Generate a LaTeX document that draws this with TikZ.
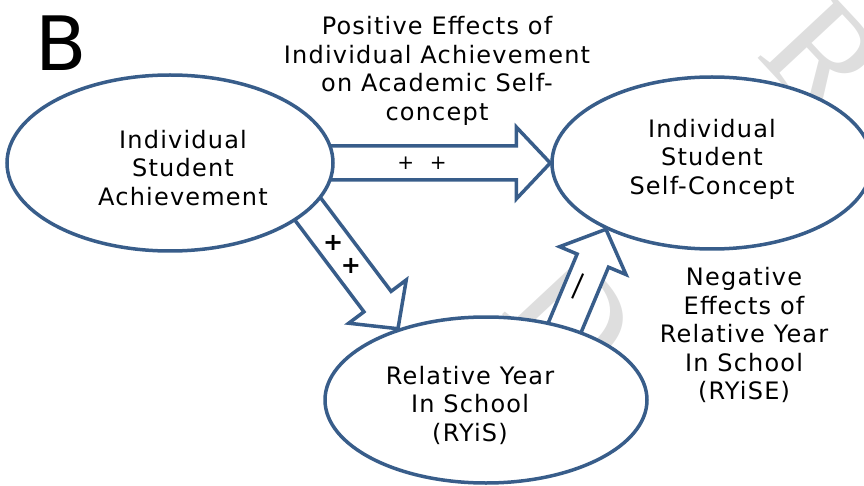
\documentclass[tikz,border=0pt]{standalone}
\usepackage{fontspec}
\setmainfont{DejaVu Sans}[LetterSpace=5]
\newfontfamily\wmfont{Liberation Serif}
\usepackage{tikz}
\usetikzlibrary{shapes,positioning,calc}
\definecolor{frameblue}{RGB}{56,93,138}
\definecolor{wmgray}{RGB}{222,222,222}
\tikzstyle{oval} = [draw=frameblue, ellipse, fill=white, line width=3.5pt]
\tikzstyle{txt} = [align=center, font=\fontsize{24}{28.5}\selectfont]
\tikzstyle{fatarr} = [draw=frameblue, fill=white, line width=3.5pt]
\tikzstyle{sign} = [inner sep=0pt, font=\fontsize{20}{20}\selectfont]
\tikzstyle{wm} = [text=wmgray, rotate=-47, font=\wmfont\fontsize{150}{150}\selectfont]
\pgfdeclarelayer{back}
\pgfdeclarelayer{arr}
\pgfsetlayers{back,arr,main}

% hollow block arrow, #1 = start, #2 = tip
\newcommand{\fatarrow}[2]{%
  \coordinate (fa-s) at ($(#1)!-25pt!(#2)$);
  \coordinate (fa-h) at ($(#2)!34pt!(#1)$);
  \filldraw[fatarr] ($(fa-s)!17pt!90:(#2)$) -- ($(fa-h)!17pt!90:(#2)$)
    -- ($(fa-h)!36pt!90:(#2)$) -- (#2) -- ($(fa-h)!36pt!-90:(#2)$)
    -- ($(fa-h)!17pt!-90:(#2)$) -- ($(fa-s)!17pt!-90:(#2)$) -- cycle;
}

\begin{document}
\begin{tikzpicture}[x=1pt, y=-1pt, node distance=542pt]
  \useasboundingbox (0,0) rectangle (864,486);
  \node [oval, minimum width=326pt, minimum height=176pt] (ach) at (170,163) {};
  \node [oval, minimum width=320pt, minimum height=172pt, right of=ach] (sc) {};
  \node [oval, minimum width=322pt, minimum height=166pt] (ry) at (486,400) {};

  \node [txt] (achtxt) at ([xshift=13pt, yshift=-5pt]ach.center) {Individual\\Student\\Achievement};
  \node [txt] (sctxt) at ([yshift=4pt]sc.center) {Individual\\Student\\Self-Concept};
  \node [txt] (rytxt) at ([xshift=-16pt, yshift=-5pt]ry.center) {Relative Year\\In School\\(RYiS)};

  \node [txt, font=\fontsize{75}{80}\selectfont] (lbl) at (61,43) {B};
  \node [txt] (pos) at (437,71) {Positive Effects of\\Individual Achievement\\on Academic Self-\\concept};
  \node [txt] (neg) at (744,335) {Negative\\Effects of\\Relative Year\\In School\\(RYiSE)};

  \begin{pgfonlayer}{back}
    \node [wm] (wmd) at (572,318) {D};
    \node [wm] (wmr) at (825,58) {R};
  \end{pgfonlayer}

  \begin{pgfonlayer}{arr}
    \fatarrow{ach.east}{sc.west}
    \fatarrow{ach.-19}{ry.141}
    \fatarrow{ry.43}{sc.212}
  \end{pgfonlayer}

  \node [sign] (p1) at ($(ach.east)!0.33!(sc.west)$) {+};
  \node [sign] (p2) at ($(ach.east)!0.48!(sc.west)$) {+};
  \node [sign, font=\fontsize{24}{24}\selectfont\bfseries] (p3) at ($(ach.-19)!0.27!(ry.141)$) {+};
  \node [sign, font=\fontsize{24}{24}\selectfont\bfseries] (p4) at ($(ach.-19)!0.47!(ry.141)$) {+};
  \node [sign, rotate=66, font=\fontsize{30}{30}\selectfont] (m1) at ($(ry.43)!0.39!(sc.212)$) {\textemdash};
\end{tikzpicture}
\end{document}
